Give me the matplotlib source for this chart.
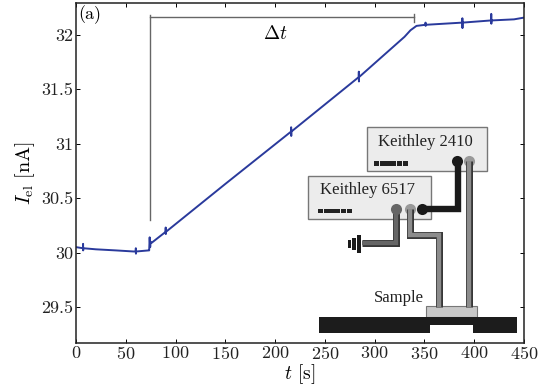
import matplotlib
matplotlib.use("Agg")
import matplotlib.pyplot as plt
from matplotlib.patches import Rectangle

# current trace (each spike goes up, down and back to the trace)
t = [0, 7, 7.1, 7.2, 7.3, 20, 40, 58, 60, 60.1, 60.2, 60.3, 73, 73.5, 74, 74.5, 75, 76,
     90, 90.1, 90.2, 90.3, 150, 216, 216.1, 216.2, 216.3,
     284, 284.1, 284.2, 284.3, 330, 336, 342, 351, 351.1, 351.2, 351.3,
     388, 388.1, 388.2, 388.3, 417, 417.1, 417.2, 417.3, 440, 450]
I_el = [30.05, 30.04, 30.08, 30.02, 30.04, 30.03, 30.02, 30.01, 30.01, 30.04, 29.99, 30.01, 30.02, 30.02, 30.14, 30.05, 30.1, 30.09,
        30.19, 30.23, 30.17, 30.19, 30.63, 31.11, 31.15, 31.07, 31.11,
        31.61, 31.66, 31.57, 31.61, 31.98, 32.04, 32.08, 32.09, 32.11, 32.08, 32.09,
        32.11, 32.15, 32.06, 32.11, 32.13, 32.19, 32.1, 32.13, 32.14, 32.156]
x_ticks = [0, 50, 100, 150, 200, 250, 300, 350, 400, 450]
y_ticks = [29.5, 30, 30.5, 31, 31.5, 32]
y_labels = ["29.5", "30", "30.5", "31", "31.5", "32"]

plt.rcParams['font.family'] = 'serif'
plt.rcParams['font.serif'] = ['cmr10', 'Liberation Serif']
plt.rcParams['mathtext.fontset'] = 'cm'
plt.rcParams['axes.formatter.use_mathtext'] = True

fig = plt.figure(figsize=(5.45, 3.87), dpi=100)
ax = fig.add_axes([76 / 545, 1 - 342.5 / 387, 448 / 545, 339.5 / 387])
ax.plot(t, I_el, color="#2a3a9c", lw=1.4)
ax.set_xlim(0, 450)
ax.set_ylim(29.175, 32.29)
ax.set_xticks(x_ticks)
ax.set_yticks(y_ticks)
ax.set_yticklabels(y_labels)
ax.tick_params(direction='in', top=True, right=True, length=3, width=0.7, labelsize=13, pad=2, labelcolor="#222222")
for s in ax.spines.values():
    s.set_linewidth(1.1)
    s.set_color("#222222")
ax.set_xlabel(r"$t$ [s]", fontsize=14, labelpad=0)
ax.set_ylabel(r"$I_{\mathrm{el}}$ [nA]", fontsize=14.5, labelpad=3)
ax.text(2, 32.27, "(a)", fontsize=13, va='top', ha='left')

# delta t bracket
gr = "#666666"
ax.plot([74, 74], [30.3, 32.18], color=gr, lw=1.0)
ax.plot([74, 340], [32.16, 32.16], color=gr, lw=1.0)
ax.plot([340, 340], [32.12, 32.19], color=gr, lw=1.0)
ax.text(200, 32.01, r"$\Delta t$", fontsize=14, ha='center', va='center')

# instrument sketch on a pixel-sized overlay
ov = fig.add_axes([0, 0, 1, 1], facecolor='none')
ov.set_xlim(0, 545)
ov.set_ylim(387, 0)
ov.axis('off')

def box(x0, y0, x1, y1, fc, ec="none", lw=0.8, z=2):
    ov.add_patch(Rectangle((x0, y0), x1 - x0, y1 - y0, fc=fc, ec=ec, lw=lw, zorder=z))

def wire(xs, ys, col, z=4):
    ov.plot(xs, ys, color="#333333", lw=5, solid_joinstyle='miter', solid_capstyle='butt', zorder=z)
    ov.plot(xs, ys, color=col, lw=3.2, solid_joinstyle='miter', solid_capstyle='butt', zorder=z + 0.1)

box(367, 127, 487, 171, "#ececec", "#777777", 1.0)
box(308, 176, 431, 219, "#ececec", "#777777", 1.0)
ov.text(425, 141.5, "Keithley 2410", family="Liberation Serif", fontsize=12, ha='center', va='center', color="#222222", zorder=5)
ov.text(367, 190.5, "Keithley 6517", family="Liberation Serif", fontsize=12, ha='center', va='center', color="#222222", zorder=5)
ov.text(399, 298, "Sample", family="Liberation Serif", fontsize=12, ha='center', va='center', color="#222222", zorder=5)

for x0 in (374, 318):
    y0 = 163.5 if x0 == 374 else 211
    for i in range(6):
        box(x0 + i * 5.7, y0 - 2.4, x0 + i * 5.7 + 5.2, y0 + 2.4, "#222222")

wire([396, 396, 362], [209, 243, 243], "#666666")
wire([410, 410, 439, 439], [209, 235, 235, 307], "#8c8c8c")
wire([469, 469], [161, 307], "#8c8c8c")
ov.plot([422, 458, 458], [209, 209, 161], color="#1a1a1a", lw=4.6, solid_joinstyle='miter', zorder=4)

for x, y, c in [(457, 161, "#1a1a1a"), (469, 161, "#999999"), (396, 209, "#666666"),
                (410, 209, "#999999"), (422, 209, "#1a1a1a")]:
    ov.plot([x], [y], 'o', ms=8, color=c, mec='none', zorder=3.5 if c == "#999999" else 6)

# ground symbol
for x, h in [(359, 9), (354, 6), (349.5, 4)]:
    box(x - 1.8, 244 - h, x + 1.8, 244 + h, "#1a1a1a")

# sample and holder
box(426, 306, 477, 317, "#c8c8c8", "#777777", 0.8, 3)
box(319, 317, 517, 333, "#1c1c1c", z=3)
box(430, 325, 473, 334, "white", z=3.2)

fig.savefig("out.png", dpi=100)
